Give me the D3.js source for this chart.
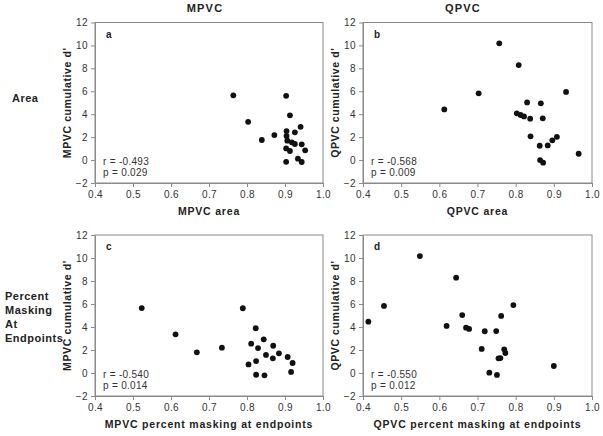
<!DOCTYPE html>
<html><head><meta charset="utf-8">
<script src="https://cdn.jsdelivr.net/npm/d3@7"></script>
<style>
body{margin:0;background:#fff;}
svg{display:block;font-family:"Liberation Sans",Arial,sans-serif;}
</style></head>
<body><svg id="c" width="603" height="436"></svg>
<script>
// ---- data ----
const xTicks = [0.4, 0.5, 0.6, 0.7, 0.8, 0.9, 1.0];
const yTicks = [-2, 0, 2, 4, 6, 8, 10, 12];
const colTitles = ["MPVC", "QPVC"];
const rowTitles = [["Area"], ["Percent", "Masking", "At", "Endpoints"]];

// panel a: MPVC area vs MPVC cumulative d'
const aX = [0.764, 0.803, 0.903, 0.913, 0.872, 0.839, 0.904, 0.941, 0.926, 0.904, 0.906, 0.918, 0.926, 0.944, 0.903, 0.913, 0.953, 0.934, 0.944, 0.903];
const aY = [5.65, 3.34, 5.6, 3.9, 2.18, 1.75, 2.53, 2.9, 2.42, 2.1, 1.69, 1.55, 1.4, 1.37, 1.02, 0.79, 0.85, 0.12, -0.17, -0.15];
// panel b: QPVC area vs QPVC cumulative d'
const bX = [0.757, 0.808, 0.703, 0.613, 0.932, 0.830, 0.866, 0.803, 0.813, 0.822, 0.838, 0.871, 0.839, 0.908, 0.896, 0.884, 0.863, 0.965, 0.864, 0.872];
const bY = [10.18, 8.29, 5.82, 4.42, 5.94, 5.03, 4.95, 4.08, 3.93, 3.81, 3.61, 3.64, 2.07, 2.03, 1.72, 1.28, 1.25, 0.55, 0.0, -0.23];
// panel c: MPVC percent masking at endpoints vs MPVC cumulative d'
const cX = [0.523, 0.789, 0.612, 0.668, 0.734, 0.823, 0.844, 0.811, 0.829, 0.869, 0.884, 0.850, 0.868, 0.907, 0.920, 0.824, 0.804, 0.916, 0.824, 0.846];
const cY = [5.65, 5.63, 3.36, 1.8, 2.2, 3.89, 2.93, 2.55, 2.17, 2.37, 1.71, 1.57, 1.28, 1.39, 0.87, 1.04, 0.75, 0.09, -0.15, -0.2];
// panel d: QPVC percent masking at endpoints vs QPVC cumulative d'
const dX = [0.549, 0.644, 0.455, 0.414, 0.794, 0.660, 0.762, 0.619, 0.670, 0.678, 0.719, 0.749, 0.711, 0.770, 0.773, 0.760, 0.755, 0.900, 0.731, 0.751];
const dY = [10.17, 8.29, 5.83, 4.46, 5.91, 5.04, 4.96, 4.09, 3.94, 3.83, 3.63, 3.65, 2.09, 2.06, 1.74, 1.3, 1.28, 0.61, 0.03, -0.17];

const panelLetters = ["a", "b", "c", "d"];
const statR = ["r = -0.493", "r = -0.568", "r = -0.540", "r = -0.550"];
const statP = ["p = 0.029", "p = 0.009", "p = 0.014", "p = 0.012"];
const xTitles = ["MPVC area", "QPVC area", "MPVC percent masking at endpoints", "QPVC percent masking at endpoints"];
const yTitles = ["MPVC cumulative d'", "QPVC cumulative d'", "MPVC cumulative d'", "QPVC cumulative d'"];

// ---- layout ----
const svg = d3.select("#c");
const colX = [[95, 323], [363, 592]];
const rowY = [[22.5, 183], [235, 396]];
const panels = [
  {xs: aX, ys: aY, col: 0, row: 0},
  {xs: bX, ys: bY, col: 1, row: 0},
  {xs: cX, ys: cY, col: 0, row: 1},
  {xs: dX, ys: dY, col: 1, row: 1}
];
const axisColor = "#8a8a8a";
const textColor = "#333";

panels.forEach((p, i) => {
  const [x0, x1] = colX[p.col];
  const [y0, y1] = rowY[p.row];
  const x = d3.scaleLinear().domain([0.4, 1.0]).range([x0, x1]);
  const y = d3.scaleLinear().domain([-2, 12]).range([y1, y0]);
  const g = svg.append("g");

  // frame
  g.append("rect").attr("x", x0).attr("y", y0).attr("width", x1 - x0).attr("height", y1 - y0)
    .attr("fill", "none").attr("stroke", axisColor).attr("stroke-width", 1);

  const xa = g.append("g").attr("transform", `translate(0,${y1})`)
    .call(d3.axisBottom(x).tickValues(xTicks).tickFormat(d3.format(".1f")).tickSize(4).tickSizeOuter(0));
  const ya = g.append("g").attr("transform", `translate(${x0},0)`)
    .call(d3.axisLeft(y).tickValues(yTicks).tickFormat(d3.format("d")).tickSize(4).tickSizeOuter(0));
  [xa, ya].forEach(a => {
    a.select(".domain").attr("stroke", axisColor);
    a.selectAll(".tick line").attr("stroke", axisColor);
    a.selectAll(".tick text").attr("fill", textColor).style("font-size", "10px")
      .style("font-family", "'Liberation Sans',Arial,sans-serif").style("letter-spacing", "0.4px");
  });
  xa.selectAll(".tick text").attr("dy", "0.71em").attr("y", 8);
  ya.selectAll(".tick text").attr("x", -7);

  // points
  g.selectAll("circle").data(p.xs.map((v, k) => [v, p.ys[k]])).join("circle")
    .attr("cx", d => x(d[0])).attr("cy", d => y(d[1])).attr("r", 2.9).attr("fill", "#111");

  // panel letter
  g.append("text").attr("x", x0 + 11).attr("y", y0 + 15).text(panelLetters[i])
    .attr("font-weight", "bold").attr("font-size", 10).attr("fill", "#222");

  // stats
  g.append("text").attr("x", x0 + 8).attr("y", y1 - 18).text(statR[i]).attr("font-size", 10).attr("fill", textColor).style("letter-spacing","0.3px");
  g.append("text").attr("x", x0 + 8).attr("y", y1 - 7).text(statP[i]).attr("font-size", 10).attr("fill", textColor).style("letter-spacing","0.3px");

  // axis titles
  g.append("text").attr("x", (x0 + x1) / 2).attr("y", y1 + 32).attr("text-anchor", "middle")
    .text(xTitles[i]).attr("font-weight", "bold").attr("font-size", 10.5).attr("fill", "#222")
    .style("letter-spacing", "0.8px");
  g.append("text").attr("transform", `translate(${x0 - 24},${(y0 + y1) / 2}) rotate(-90)`)
    .attr("text-anchor", "middle").text(yTitles[i]).attr("font-weight", "bold").attr("font-size", 10.5)
    .attr("fill", "#222").style("letter-spacing", "0.6px");
});

// column titles
svg.selectAll(".coltitle").data(colTitles).join("text").attr("class", "coltitle")
  .attr("x", (d, i) => [205, 463][i]).attr("y", 12).attr("text-anchor", "middle")
  .attr("font-weight", "bold").attr("font-size", 11).attr("fill", "#222").style("letter-spacing", "1.2px")
  .text(d => d);

// row titles
rowTitles.forEach((lines, r) => {
  const startY = r === 0 ? 102 : 300;
  lines.forEach((t, k) => {
    svg.append("text").attr("x", r === 0 ? 12 : 5).attr("y", startY + k * 14).text(t)
      .attr("font-weight", "bold").attr("font-size", 11).attr("fill", "#222").style("letter-spacing", "0.5px");
  });
});
</script></body></html>
